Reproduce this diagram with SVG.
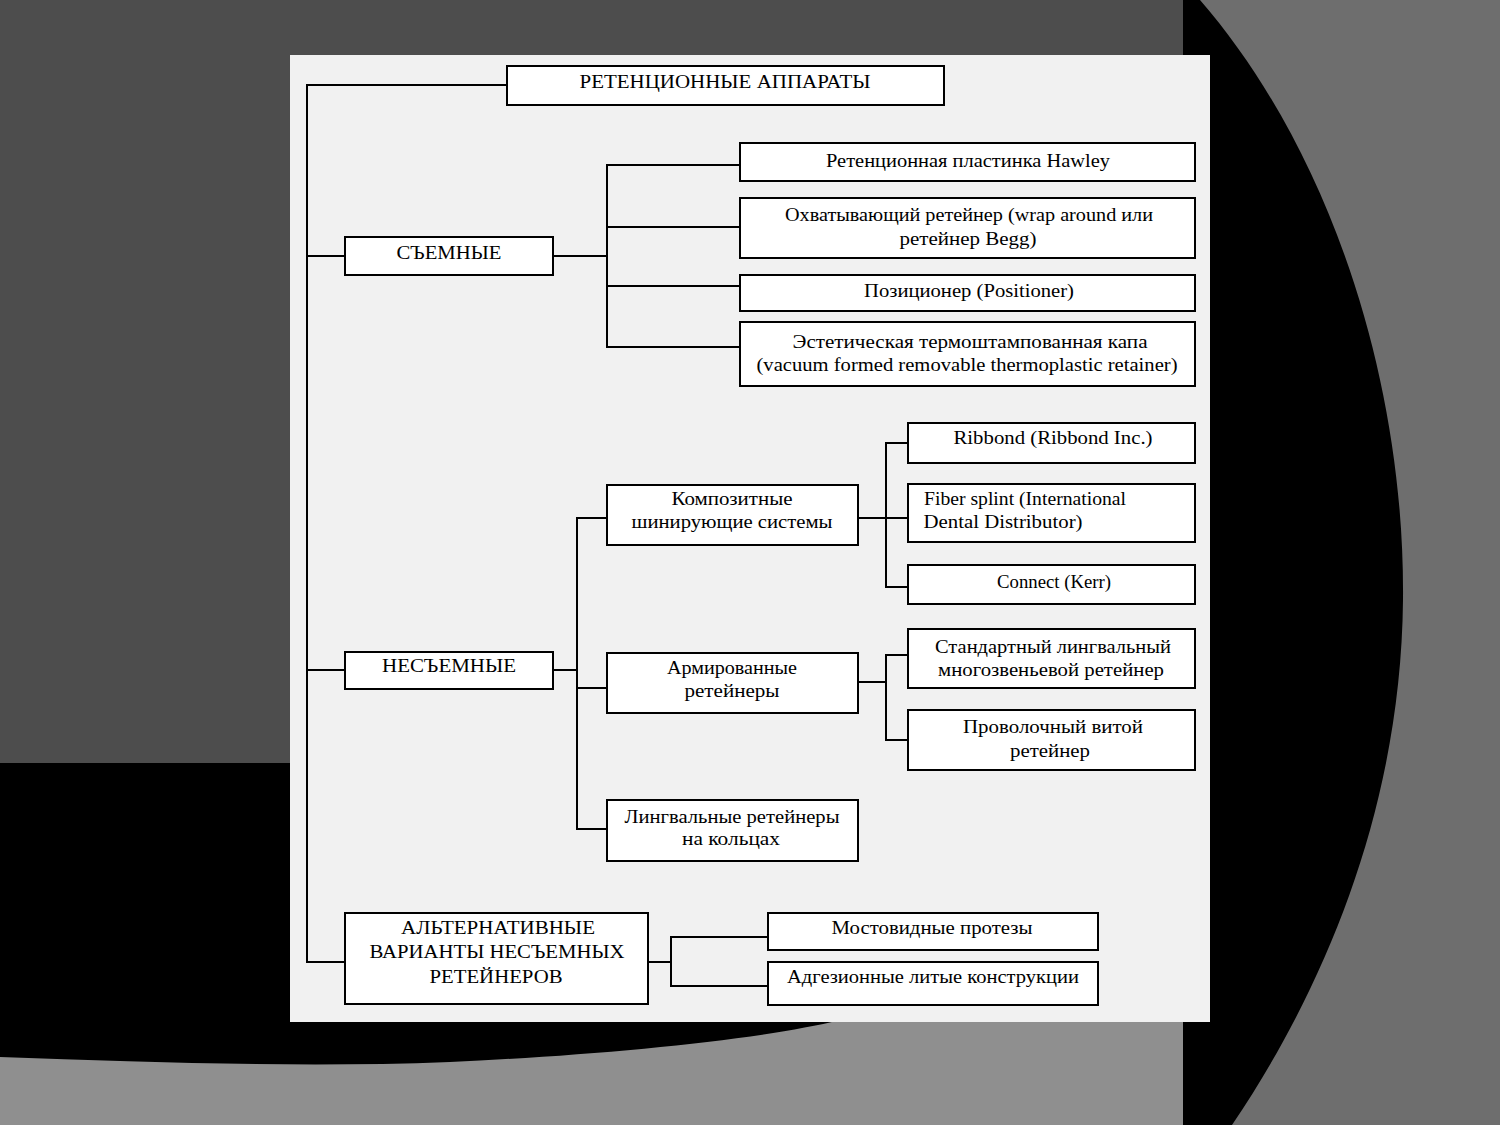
<svg xmlns="http://www.w3.org/2000/svg" width="1500" height="1125" viewBox="0 0 1500 1125">
<style>
.box{fill:#fff;stroke:#000;stroke-width:2}
.ln{fill:none;stroke:#000;stroke-width:2}
text{font-family:"Liberation Serif","DejaVu Serif",serif;font-size:19px;fill:#000;text-anchor:middle}
</style>
<g id="background">
<rect x="0" y="0" width="1500" height="1125" fill="#000"/>
<rect x="0" y="0" width="1183" height="763" fill="#4d4d4d"/>
<path d="M1200,0 C1330,150 1405,380 1403,600 C1401,800 1330,980 1232,1125 L1500,1125 L1500,0 Z" fill="#6e6e6e"/>
<path d="M0,1057 C150,1062 300,1068 450,1062 C600,1055 760,1040 840,1020 L1183,1020 L1183,1125 L0,1125 Z" fill="#8f8f8f"/>
<rect x="290" y="55" width="920" height="967" fill="#f1f1f1"/>
</g>
<g id="connectors">
<path class="ln" d="M507,85 H307 V962 H345"/>
<path class="ln" d="M307,256 H345"/>
<path class="ln" d="M307,670 H345"/>
<path class="ln" d="M553,256 H607"/>
<path class="ln" d="M740,165 H607 V347 H740"/>
<path class="ln" d="M607,227 H740"/>
<path class="ln" d="M607,286 H740"/>
<path class="ln" d="M553,670 H577"/>
<path class="ln" d="M607,518 H577 V829 H607"/>
<path class="ln" d="M577,688 H607"/>
<path class="ln" d="M858,518 H908"/>
<path class="ln" d="M908,443 H886 V587 H908"/>
<path class="ln" d="M858,682 H886"/>
<path class="ln" d="M908,655 H886 V740 H908"/>
<path class="ln" d="M648,962 H671"/>
<path class="ln" d="M768,937 H671 V986 H768"/>
</g>
<g id="n-root"><rect class="box" x="507" y="66" width="437" height="39"/><text x="725" y="88" textLength="291" lengthAdjust="spacingAndGlyphs">РЕТЕНЦИОННЫЕ АППАРАТЫ</text></g>
<g id="n-removable"><rect class="box" x="345" y="237" width="208" height="38"/><text x="449" y="259" textLength="105" lengthAdjust="spacingAndGlyphs">СЪЕМНЫЕ</text></g>
<g id="n-hawley"><rect class="box" x="740" y="143" width="455" height="38"/><text x="968" y="167" textLength="284" lengthAdjust="spacingAndGlyphs">Ретенционная пластинка Hawley</text></g>
<g id="n-wrap"><rect class="box" x="740" y="198" width="455" height="60"/><text x="969" y="221" textLength="368" lengthAdjust="spacingAndGlyphs">Охватывающий ретейнер (wrap around или</text><text x="968" y="245" textLength="137" lengthAdjust="spacingAndGlyphs">ретейнер Begg)</text></g>
<g id="n-positioner"><rect class="box" x="740" y="275" width="455" height="36"/><text x="969" y="297" textLength="210" lengthAdjust="spacingAndGlyphs">Позиционер (Positioner)</text></g>
<g id="n-vacuum"><rect class="box" x="740" y="322" width="455" height="64"/><text x="970" y="348" textLength="355" lengthAdjust="spacingAndGlyphs">Эстетическая термоштампованная капа</text><text x="967" y="371" textLength="421" lengthAdjust="spacingAndGlyphs">(vacuum formed removable thermoplastic retainer)</text></g>
<g id="n-fixed"><rect class="box" x="345" y="652" width="208" height="37"/><text x="449" y="672" textLength="134" lengthAdjust="spacingAndGlyphs">НЕСЪЕМНЫЕ</text></g>
<g id="n-composite"><rect class="box" x="607" y="485" width="251" height="60"/><text x="732" y="505" textLength="121" lengthAdjust="spacingAndGlyphs">Композитные</text><text x="732" y="528" textLength="201" lengthAdjust="spacingAndGlyphs">шинирующие системы</text></g>
<g id="n-ribbond"><rect class="box" x="908" y="423" width="287" height="40"/><text x="1053" y="444" textLength="199" lengthAdjust="spacingAndGlyphs">Ribbond (Ribbond Inc.)</text></g>
<g id="n-fiber"><rect class="box" x="908" y="484" width="287" height="58"/><text x="1025" y="505" textLength="202" lengthAdjust="spacingAndGlyphs">Fiber splint (International</text><text x="1003" y="528" textLength="159" lengthAdjust="spacingAndGlyphs">Dental Distributor)</text></g>
<g id="n-connect"><rect class="box" x="908" y="565" width="287" height="39"/><text x="1054" y="588" textLength="114" lengthAdjust="spacingAndGlyphs">Connect (Kerr)</text></g>
<g id="n-armored"><rect class="box" x="607" y="653" width="251" height="60"/><text x="732" y="674" textLength="130" lengthAdjust="spacingAndGlyphs">Армированные</text><text x="732" y="697" textLength="95" lengthAdjust="spacingAndGlyphs">ретейнеры</text></g>
<g id="n-standard"><rect class="box" x="908" y="629" width="287" height="59"/><text x="1053" y="653" textLength="236" lengthAdjust="spacingAndGlyphs">Стандартный лингвальный</text><text x="1051" y="676" textLength="226" lengthAdjust="spacingAndGlyphs">многозвеньевой ретейнер</text></g>
<g id="n-twisted"><rect class="box" x="908" y="710" width="287" height="60"/><text x="1053" y="733" textLength="180" lengthAdjust="spacingAndGlyphs">Проволочный витой</text><text x="1050" y="757" textLength="80" lengthAdjust="spacingAndGlyphs">ретейнер</text></g>
<g id="n-lingual"><rect class="box" x="607" y="800" width="251" height="61"/><text x="732" y="823" textLength="215" lengthAdjust="spacingAndGlyphs">Лингвальные ретейнеры</text><text x="731" y="845" textLength="98" lengthAdjust="spacingAndGlyphs">на кольцах</text></g>
<g id="n-alternative"><rect class="box" x="345" y="913" width="303" height="91"/><text x="498" y="934" textLength="194" lengthAdjust="spacingAndGlyphs">АЛЬТЕРНАТИВНЫЕ</text><text x="497" y="958" textLength="255" lengthAdjust="spacingAndGlyphs">ВАРИАНТЫ НЕСЪЕМНЫХ</text><text x="496" y="983" textLength="133" lengthAdjust="spacingAndGlyphs">РЕТЕЙНЕРОВ</text></g>
<g id="n-bridge"><rect class="box" x="768" y="913" width="330" height="37"/><text x="932" y="934" textLength="201" lengthAdjust="spacingAndGlyphs">Мостовидные протезы</text></g>
<g id="n-adhesive"><rect class="box" x="768" y="962" width="330" height="43"/><text x="933" y="983" textLength="292" lengthAdjust="spacingAndGlyphs">Адгезионные литые конструкции</text></g>
</svg>
